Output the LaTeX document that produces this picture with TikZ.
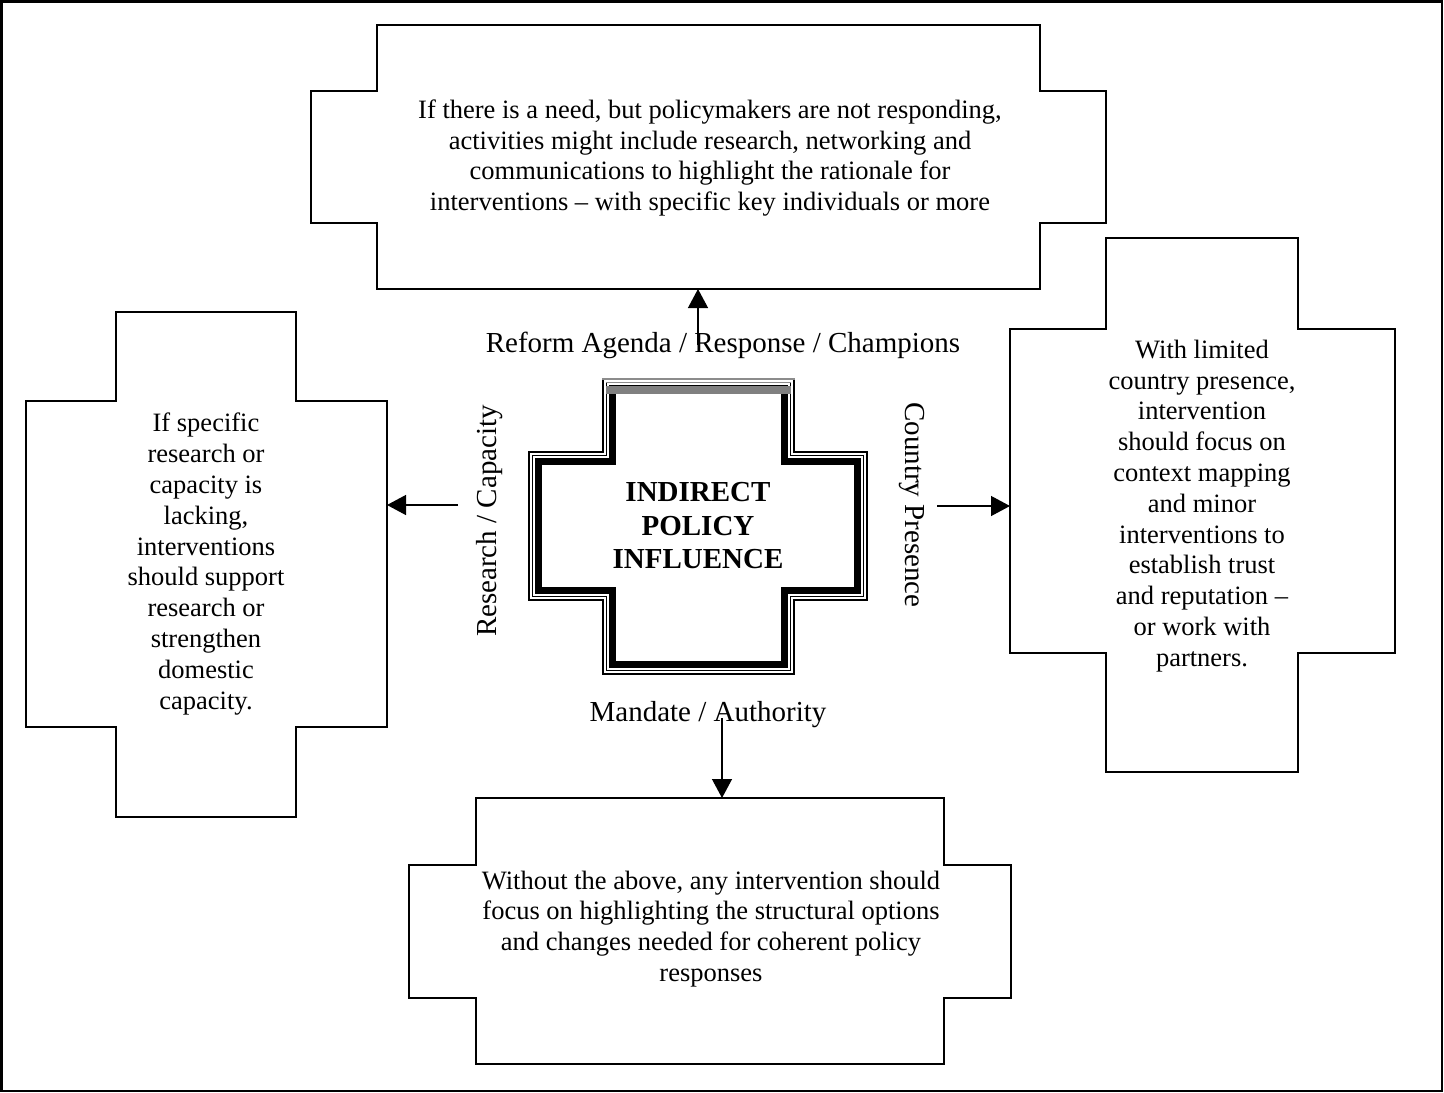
\documentclass[tikz,border=0pt]{standalone}
\usepackage{fontspec}
\setmainfont{Liberation Serif}
\usetikzlibrary{arrows.meta}

% Stepped cross outline, offset inwards by #1.
% #2,#3: left/right of the narrow arm; #4,#5: left/right of the wide arm;
% #6: top; #7,#8: top/bottom of the wide arm; #9: bottom.
\newcommand\plusshape[9]{%
  (#2+#1,#6+#1) -- (#3-#1,#6+#1) -- (#3-#1,#7+#1) -- (#5-#1,#7+#1) --
  (#5-#1,#8-#1) -- (#3-#1,#8-#1) -- (#3-#1,#9-#1) -- (#2+#1,#9-#1) --
  (#2+#1,#8-#1) -- (#4+#1,#8-#1) -- (#4+#1,#7+#1) -- (#2+#1,#7+#1) -- cycle}

\tikzset{
  outline/.style={line width=1.6pt, line join=miter},
  boxtext/.style={align=center, inner sep=0pt,
    font=\fontsize{26.5}{30.8}\selectfont},
  axistext/.style={inner sep=0pt, anchor=base,
    font=\fontsize{29}{34}\selectfont},
  centretitle/.style={align=center, inner sep=0pt,
    font=\fontsize{29}{33.5}\selectfont\bfseries},
  conn/.style={line width=1.3pt, -{Triangle[length=19pt,width=20pt]}},
}

\begin{document}
\begin{tikzpicture}[x=1pt, y=-1pt]
  \useasboundingbox (0,0) rectangle (1444,1093);
  % outer frame
  \draw[line width=2.2pt] (1.5,1.5) rectangle (1442,1091);

  % outcome boxes
  \draw[outline] \plusshape{0}{377}{1040}{311}{1106}{25}{91}{223}{289};
  \draw[outline] \plusshape{0}{116}{296}{26}{387}{312}{401}{727}{817};
  \draw[outline] \plusshape{0}{1106}{1298}{1010}{1395}{238}{329}{653}{772};
  \draw[outline] \plusshape{0}{476}{944}{409}{1011}{798}{865}{998}{1064};

  % central cross with compound border
  \draw[line width=1.2pt] \plusshape{0}{603}{794}{529}{867}{379}{452}{600}{674};
  \draw[line width=1pt] \plusshape{3.5}{603}{794}{529}{867}{379}{452}{600}{674};
  \draw[line width=6.5pt] \plusshape{9.5}{603}{794}{529}{867}{379}{452}{600}{674};
  % shaded top edge
  \draw[line width=1.4pt, black!45, line cap=rect] (603,379) -- (794,379);
  \draw[line width=1.2pt, black!45, line cap=rect] (606.5,382.5) -- (790.5,382.5);
  \draw[line width=8pt, black!50] (606,389.5) -- (791,389.5);

  \node[centretitle] (core) at (698,526) {INDIRECT\\POLICY\\INFLUENCE};

  % texts of the outcome boxes
  \node[boxtext] (topText) at (710,158)
    {If there is a need, but policymakers are not responding,\\
     activities might include research, networking and\\
     communications to highlight the rationale for\\
     interventions – with specific key individuals or more};
  \node[boxtext] (leftText) at (206,564)
    {If specific\\research or\\capacity is\\lacking,\\interventions\\
     should support\\research or\\strengthen\\domestic\\capacity.};
  \node[boxtext] (rightText) at (1202,506)
    {With limited\\country presence,\\intervention\\should focus on\\
     context mapping\\and minor\\interventions to\\establish trust\\
     and reputation –\\or work with\\partners.};
  \node[boxtext] (bottomText) at (711,929)
    {Without the above, any intervention should\\
     focus on highlighting the structural options\\
     and changes needed for coherent policy\\
     responses};

  % dimension labels round the cross
  \node[axistext] (reform) at (723,352) {Reform Agenda / Response / Champions};
  \node[axistext] (mandate) at (708,721) {Mandate / Authority};
  \node[axistext, rotate=90] (research) at (496,521) {Research / Capacity};
  \node[axistext, rotate=-90] (presence) at (905,505) {Country Presence};

  % arrow end points
  \coordinate (upFrom) at (698,345);
  \coordinate (topBoxS) at (698,289);
  \coordinate (leftFrom) at (458,505);
  \coordinate (leftBoxE) at (387,505);
  \coordinate (rightFrom) at (937,506);
  \coordinate (rightBoxW) at (1010,506);
  \coordinate (downFrom) at (722,718);
  \coordinate (bottomBoxN) at (722,798);

  \draw[conn] (upFrom) -- (topBoxS);
  \draw[conn] (leftFrom) -- (leftBoxE);
  \draw[conn] (rightFrom) -- (rightBoxW);
  \draw[conn] (downFrom) -- (bottomBoxN);
\end{tikzpicture}
\end{document}
